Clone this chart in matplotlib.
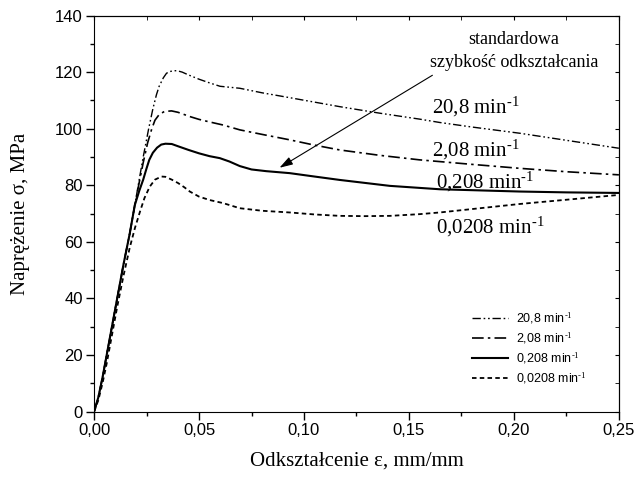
import numpy as np
import matplotlib
matplotlib.use('Agg')
import matplotlib.pyplot as plt
from matplotlib.ticker import MultipleLocator, FuncFormatter

#Curve data (strain mm/mm, stress MPa)
eps_208 = [0, 0.002, 0.004, 0.006, 0.008, 0.011, 0.014, 0.017, 0.0194, 0.0215, 0.0234, 0.026,
           0.028, 0.0297, 0.031, 0.033, 0.0345, 0.036, 0.038, 0.0396, 0.042, 0.045, 0.05, 0.055,
           0.06, 0.0694, 0.08, 0.093, 0.105, 0.117, 0.136, 0.155, 0.1647, 0.18, 0.2028, 0.225, 0.25]
sig_208 = [0, 5, 12, 20, 28, 40, 52, 63, 73, 82, 90, 100,
           107, 112, 115, 118, 119.6, 120.2, 120.5, 120.5, 120, 119, 117.5, 116.2,
           115, 114.3, 112.7, 111, 109.4, 107.8, 105.5, 103.4, 102.2, 100.6, 98.4, 95.9, 93.1]

eps_2_08 = [0, 0.002, 0.004, 0.006, 0.008, 0.011, 0.014, 0.017, 0.0194, 0.0215, 0.0234, 0.0255,
            0.0275, 0.029, 0.031, 0.0335, 0.0369, 0.04, 0.0456, 0.05, 0.055, 0.0615, 0.0694,
            0.08, 0.093, 0.105, 0.117, 0.136, 0.155, 0.18, 0.2028, 0.225, 0.25]
sig_2_08 = [0, 5, 12, 20, 28, 40, 52, 63, 73, 81, 88, 95,
            100, 103, 105, 106.1, 106.3, 105.8, 104.3, 103.3, 102.4, 101.3, 99.6,
            98, 96.1, 94.2, 92.5, 90.6, 89, 87.4, 86, 84.8, 83.7]

eps_0208 = [0, 0.002, 0.004, 0.006, 0.008, 0.011, 0.014, 0.017, 0.0194, 0.0215, 0.0234, 0.025,
            0.0263, 0.028, 0.030, 0.032, 0.034, 0.037, 0.040, 0.045, 0.05, 0.055, 0.0599,
            0.0645, 0.0694, 0.075, 0.082, 0.0932, 0.105, 0.117, 0.1409, 0.1647, 0.2028, 0.225, 0.25]
sig_0208 = [0, 5, 12, 20, 28, 40, 52, 63, 73, 78, 82, 86,
            89, 91.5, 93.3, 94.4, 94.7, 94.6, 93.8, 92.5, 91.3, 90.3, 89.6,
            88.4, 86.8, 85.6, 85, 84.3, 83.1, 81.9, 79.8, 78.6, 77.8, 77.5, 77.3]

eps_00208 = [0, 0.002, 0.004, 0.006, 0.008, 0.011, 0.014, 0.017, 0.0195, 0.022, 0.024, 0.0265,
             0.029, 0.0321, 0.034, 0.037, 0.04, 0.043, 0.0456, 0.05, 0.055, 0.0615, 0.0694,
             0.08, 0.0932, 0.105, 0.117, 0.129, 0.141, 0.155, 0.1647, 0.18, 0.2028, 0.225, 0.25]
sig_00208 = [0, 4, 10, 17, 25, 37, 48, 58, 65, 71, 75.5, 79.5,
             82, 83.1, 83, 82, 80.8, 79.3, 77.8, 76, 74.8, 73.7, 71.9,
             71, 70.4, 69.7, 69.2, 69.1, 69.2, 69.8, 70.4, 71.6, 73.4, 74.9, 76.6]

labels = ['20,8 min$^{\\text{-1}}$', '2,08 min$^{\\text{-1}}$',
          '0,208 min$^{\\text{-1}}$', '0,0208 min$^{\\text{-1}}$']

plt.rcParams['font.family'] = ['Liberation Sans', 'DejaVu Sans']
plt.rcParams['mathtext.fontset'] = 'custom'
plt.rcParams['mathtext.rm'] = 'Liberation Serif'
plt.rcParams['mathtext.default'] = 'rm'

fig = plt.figure(figsize=(6.4, 4.86), dpi=100)
ax = fig.add_axes([0.147, 0.153, 0.82, 0.815])

ax.plot(eps_208, sig_208, color='black', lw=1.0, dashes=(6, 2, 1.2, 2, 1.2, 2), label=labels[0])
ax.plot(eps_2_08, sig_2_08, color='black', lw=1.2, dashes=(7, 2.5, 1.5, 2.5), label=labels[1])
ax.plot(eps_0208, sig_0208, color='black', lw=1.5, label=labels[2])
ax.plot(eps_00208, sig_00208, color='black', lw=1.3, dashes=(2.5, 1.8), label=labels[3])

ax.set_xlim(0, 0.25)
ax.set_ylim(0, 140)

#Ticks: outward on left/bottom, inward on top/right
ax.xaxis.set_major_locator(MultipleLocator(0.05))
ax.xaxis.set_minor_locator(MultipleLocator(0.025))
ax.yaxis.set_major_locator(MultipleLocator(20))
ax.yaxis.set_minor_locator(MultipleLocator(10))
ax.xaxis.set_major_formatter(FuncFormatter(lambda v, p: ('%.2f' % v).replace('.', ',')))
ax.yaxis.set_major_formatter(FuncFormatter(lambda v, p: '%d' % v))
ax.tick_params(which='major', direction='out', length=6, width=1, labelsize=12, pad=2)
ax.tick_params(which='minor', direction='out', length=3, width=1)

top = ax.secondary_xaxis('top')
top.xaxis.set_major_locator(MultipleLocator(0.05))
top.xaxis.set_minor_locator(MultipleLocator(0.025))
top.tick_params(which='both', direction='in', length=3, labeltop=False)
right = ax.secondary_yaxis('right')
right.yaxis.set_major_locator(MultipleLocator(20))
right.yaxis.set_minor_locator(MultipleLocator(10))
right.tick_params(which='both', direction='in', length=3, labelright=False)

ax.set_xlabel('Odkształcenie ε, mm/mm', fontsize=15, family='Liberation Serif', labelpad=10)
ax.set_ylabel('Naprężenie σ, MPa', fontsize=15, family='Liberation Serif', labelpad=18)

#Curve labels
serif = {'family': 'Liberation Serif', 'fontsize': 15}
ax.text(0.161, 107.7, labels[0], va='center', ha='left', **serif)
ax.text(0.161, 92.5, labels[1], va='center', ha='left', **serif)
ax.text(0.163, 81.2, labels[2], va='center', ha='left', **serif)
ax.text(0.163, 65.3, labels[3], va='center', ha='left', **serif)

ax.text(0.2, 131.4, 'standardowa', ha='center', va='center', family='Liberation Serif', fontsize=13)
ax.text(0.2, 123.3, 'szybkość odkształcania', ha='center', va='center', family='Liberation Serif', fontsize=13)
ax.annotate('', xy=(0.0872, 85.7), xytext=(0.1623, 119.4),
            arrowprops=dict(arrowstyle='-|>,head_length=0.8,head_width=0.25', color='black', lw=0.8))

leg = ax.legend(loc='lower left', frameon=False, handlelength=2.9,
                labelspacing=0.35, handletextpad=0.6, borderaxespad=0, borderpad=0,
                bbox_to_anchor=(0.72, 0.065), prop={'family': 'Liberation Sans', 'size': 9})

fig.savefig('out.png', dpi=100)
